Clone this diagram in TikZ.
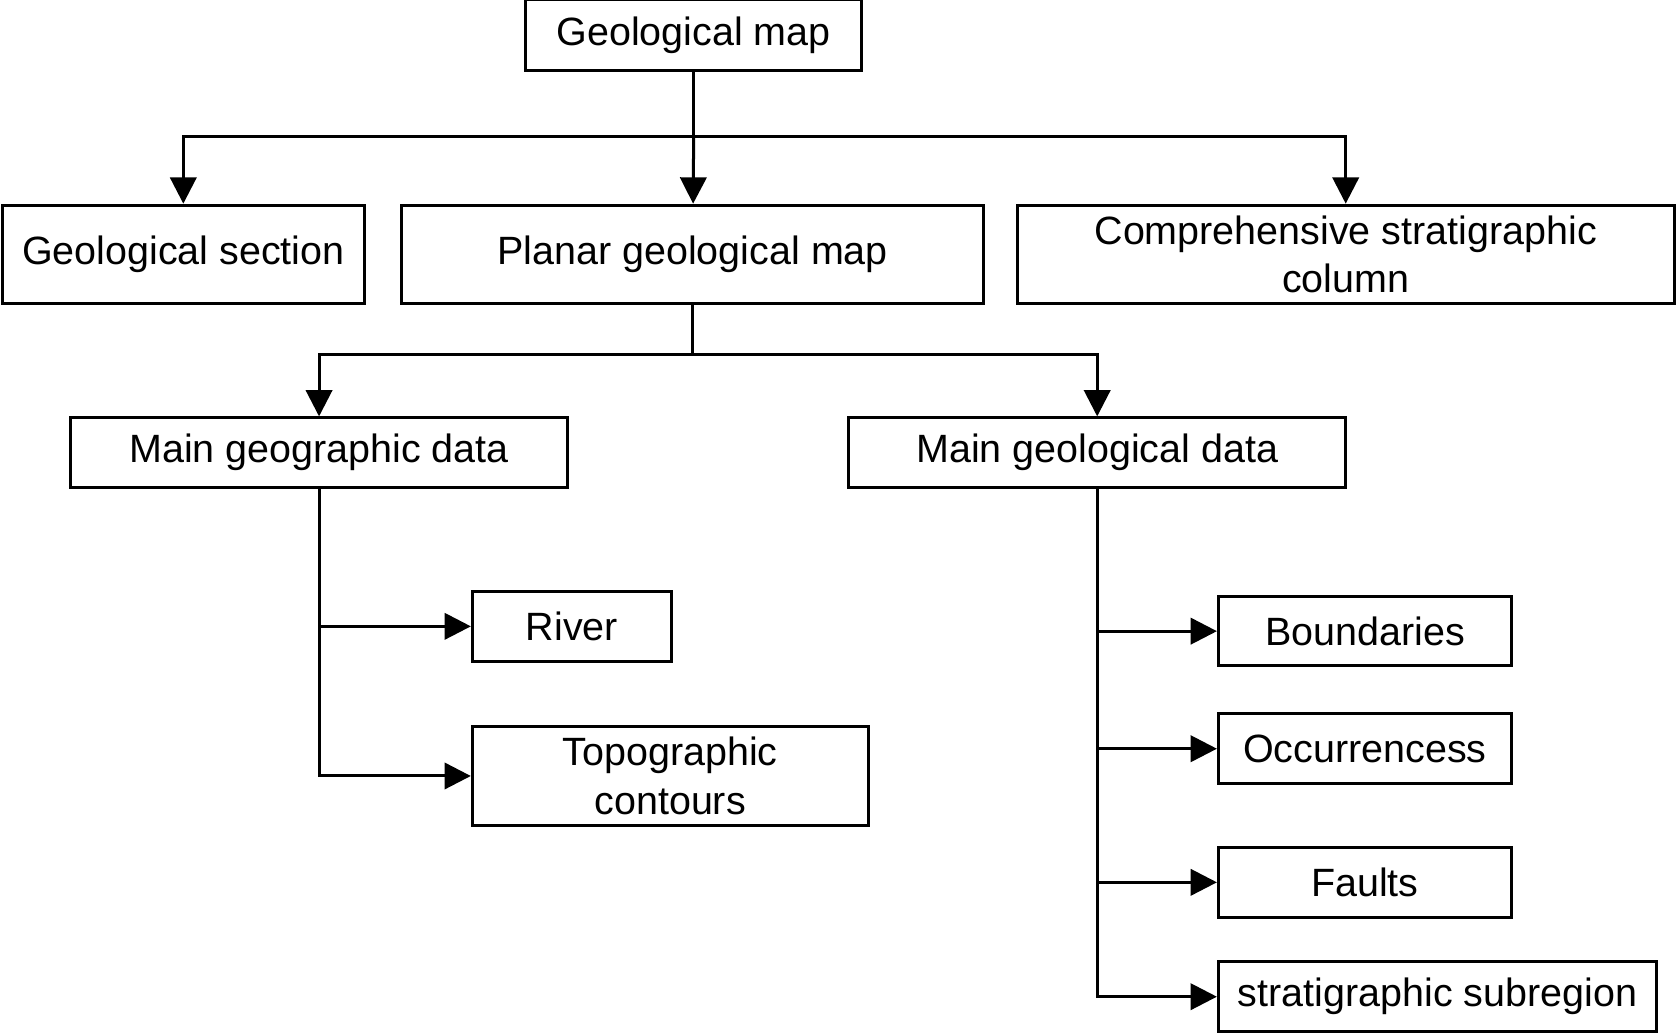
\documentclass[tikz,border=0pt]{standalone}
\usepackage{fontspec}
\setmainfont{Liberation Sans}
\usetikzlibrary{arrows.meta}

\begin{document}
\begin{tikzpicture}[x=0.01cm,y=-0.01cm,
    box/.style={draw=black,thick,inner sep=2pt,align=center,font=\fontsize{10.5}{13}\selectfont},
    link/.style={thick,-{Triangle[length=7pt,width=7pt]}}]
        \useasboundingbox (0,0) rectangle (1568,968);
        \node[box,minimum width=3.14cm,minimum height=0.66cm] (gm) at (649,33) {Geological map};
        \node[box,minimum width=3.39cm,minimum height=0.92cm] (gs) at (171.5,238) {Geological section};
        \node[box,minimum width=5.44cm,minimum height=0.92cm] (pgm) at (648,238) {Planar geological map};
        \node[box,minimum width=6.14cm,minimum height=0.92cm] (csc) at (1259,238) {Comprehensive stratigraphic\\column};
        \node[box,minimum width=4.65cm,minimum height=0.65cm] (geo) at (298.5,423.5) {Main geographic data};
        \node[box,minimum width=4.65cm,minimum height=0.65cm] (gel) at (1026.5,423.5) {Main geological data};
        \node[box,minimum width=1.86cm,minimum height=0.66cm] (river) at (535,586) {River};
        \node[box,minimum width=3.70cm,minimum height=0.92cm] (topo) at (627,726) {Topographic\\contours};
        \node[box,minimum width=2.74cm,minimum height=0.65cm] (bound) at (1277,590.5) {Boundaries};
        \node[box,minimum width=2.74cm,minimum height=0.65cm] (occ) at (1277,700.5) {Occurrencess};
        \node[box,minimum width=2.74cm,minimum height=0.65cm] (fault) at (1277,825.5) {Faults};
        \node[box,minimum width=4.10cm,minimum height=0.65cm] (strat) at (1345,932.5) {stratigraphic subregion};

        \coordinate (j1) at (649,128);
        \coordinate (j2) at (648,332);
        \draw [thick] (gm) -- (j1);
        \draw [link] (j1) -| (gs);
        \draw [link] (j1) -- (pgm);
        \draw [link] (j1) -| (csc);
        \draw [thick] (pgm) -- (j2);
        \draw [link] (j2) -| (geo);
        \draw [link] (j2) -| (gel);
        \draw [link] (geo) |- (river);
        \draw [link] (geo) |- (topo);
        \draw [link] (gel) |- (bound);
        \draw [link] (gel) |- (occ);
        \draw [link] (gel) |- (fault);
        \draw [link] (gel) |- (strat);
    \end{tikzpicture}
\end{document}
